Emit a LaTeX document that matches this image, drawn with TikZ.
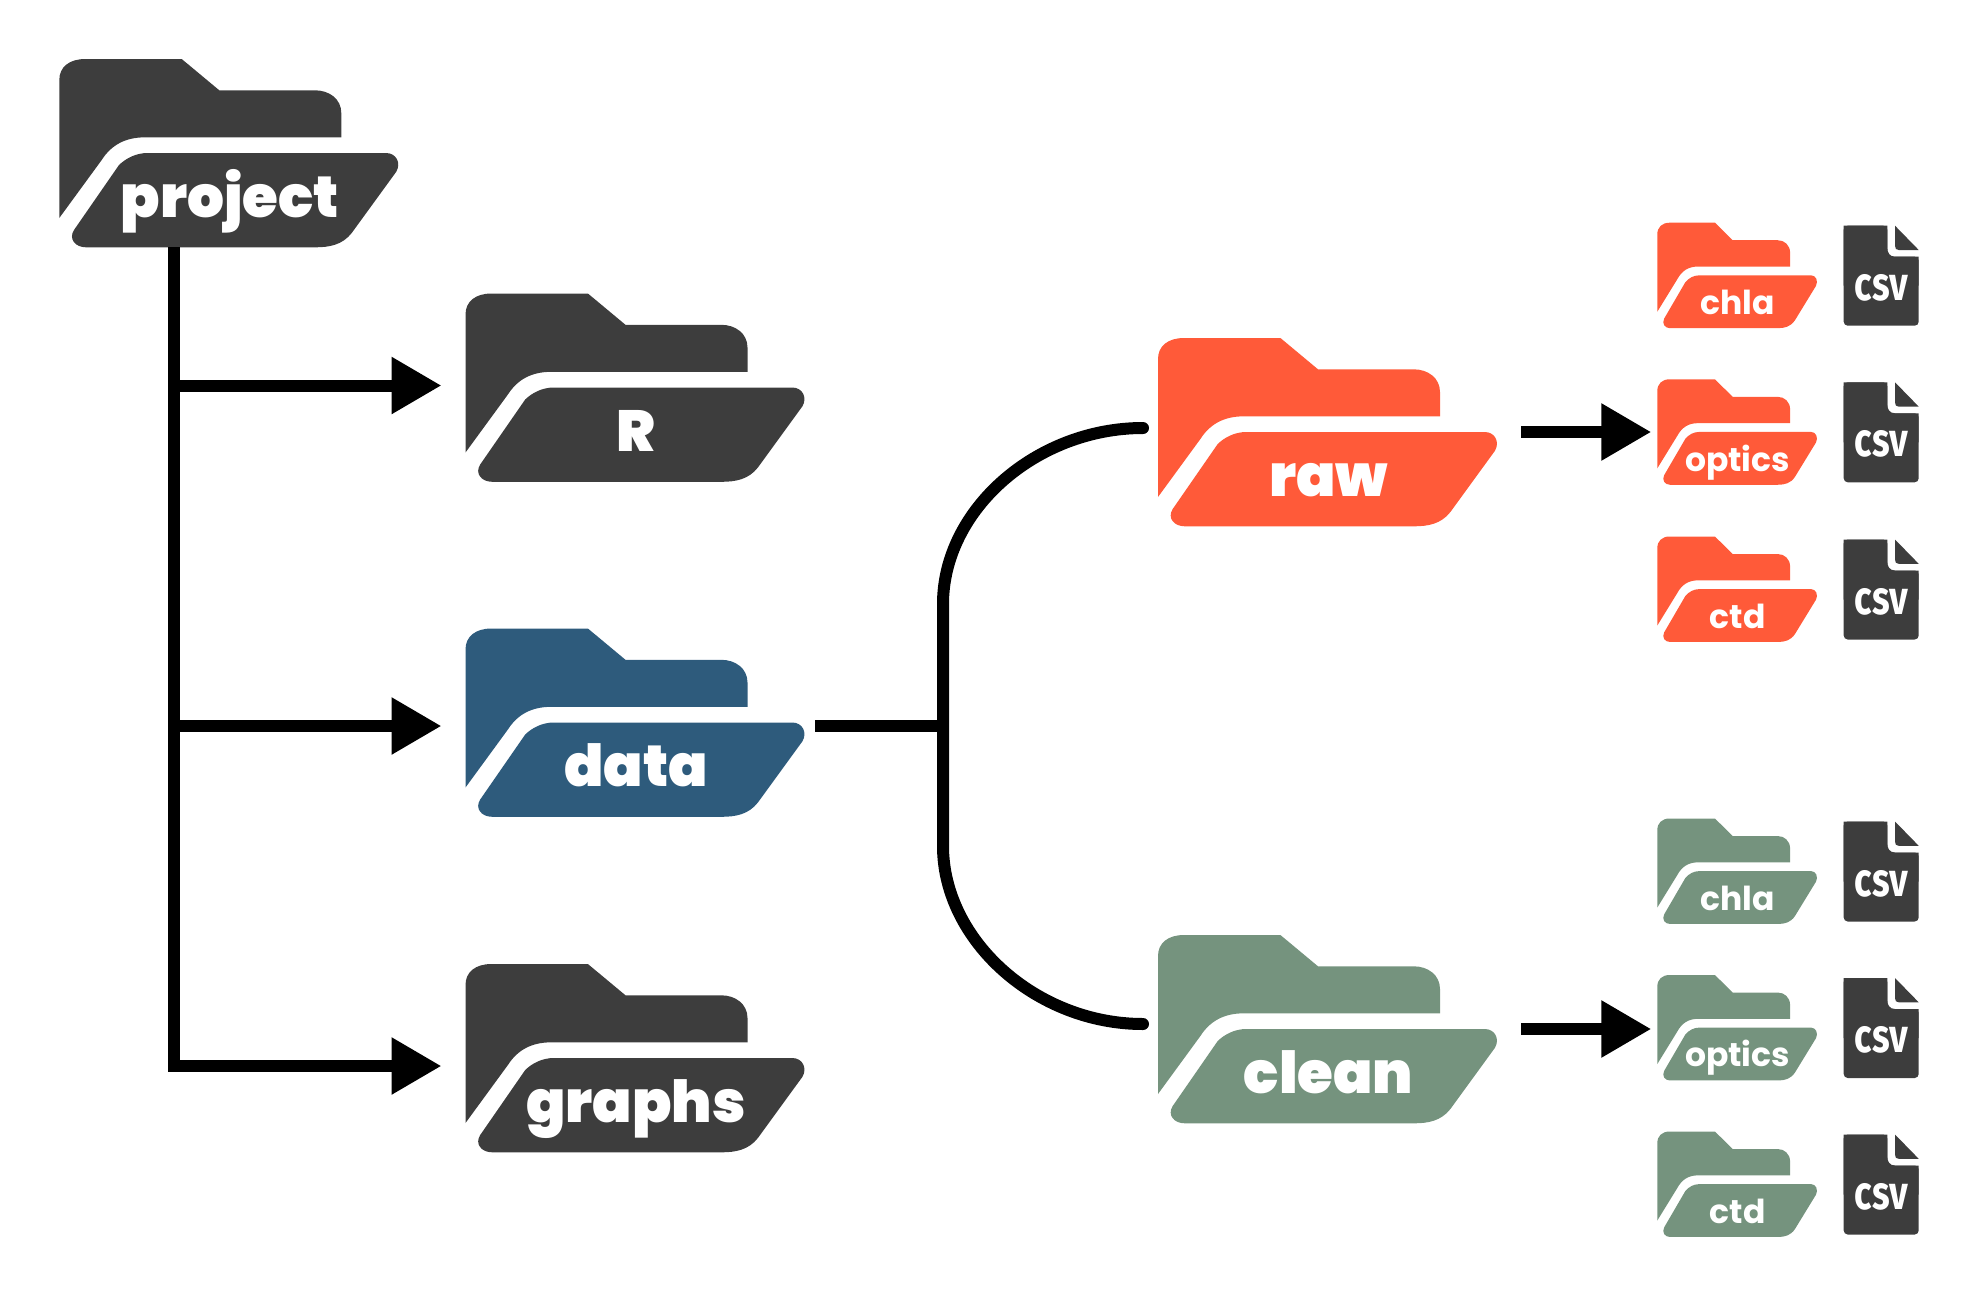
\documentclass[tikz,border=0pt]{standalone}
\usepackage{fontspec}
\usepackage{graphicx}
\usetikzlibrary{arrows.meta}
\newfontfamily\heavyfont{Poppins Black}
\newfontfamily\midfont{Poppins}[UprightFont=* Bold]
\newfontfamily\csvfont{Fira Sans}[UprightFont=* Bold]
\definecolor{darkgrey}{HTML}{3D3D3D}
\definecolor{deepblue}{HTML}{2E5B7C}
\definecolor{tomato}{HTML}{FF5A39}
\definecolor{sage}{HTML}{75937E}
\tikzset{
  pics/folder/.style n args={4}{code={
    \fill[#1] (0,21) .. controls (0,8) and (10,0) .. (26,0) -- (122.4,0) -- (160,31.3) -- (255.7,31.3)
      .. controls (270,31.3) and (282,40) .. (282,54) -- (282,78.3) -- (86,78.3)
      .. controls (66,78.3) and (52,86) .. (42.4,101) -- (0,159) -- cycle;
    \fill[#1] (59.7,106) .. controls (67,99) and (77,94) .. (88.4,94) -- (326.7,94)
      .. controls (337,94) and (342,104) .. (337,112.7) -- (292.4,174)
      .. controls (283,186) and (270,188.3) .. (256,188.3) -- (26.7,188.3)
      .. controls (16,188.3) and (9,180) .. (14.7,171) -- cycle;
    \node[text=white,font=#2,inner sep=0,anchor=base] (-label) at (170.5,#3) {#4};
    \coordinate (-west) at (0,92);
    \coordinate (-east) at (338,92);
    \coordinate (-south) at (114.4,188.3);
  }},
  pics/csvfile/.style={code={
    \fill[darkgrey,rounded corners=2pt] (0,0) -- (43.6,0) -- (43.6,31) -- (51.3,31) -- (75,31) -- (75,100) -- (0,100) -- cycle;
    \fill[darkgrey] (0,0) -- (43.6,0) -- (43.6,22) .. controls (43.6,27) and (46,31) .. (51.3,31) -- (75,31) -- (75,60) -- (0,60) -- cycle;
    \fill[darkgrey] (51.3,0) -- (75,24.3) -- (55,24.3) .. controls (52.5,24.3) and (51.3,23) .. (51.3,20) -- cycle;
    \node[text=white,font=\csvfont,inner sep=0] (-label) at (37.5,62) {\scalebox{.96}[1.25]{\fontsize{19pt}{19pt}\selectfont csv}};
  }},
  link/.style={line width=6pt},
  arrow/.style={line width=6pt,-{Triangle[length=25pt,width=27pt]}},
  small/.style={xscale=.471,yscale=.56}
}
\begin{document}
\begin{tikzpicture}[x=.5pt,y=-.5pt]
  \useasboundingbox (0,0) rectangle (1978,1297);
  \def\biglabel{\heavyfont\fontsize{29pt}{29pt}\selectfont}
  \def\smalllabel{\midfont\fontsize{16.5pt}{16.5pt}\selectfont}

  \pic (project) at (59.3,59) {folder={darkgrey}{\biglabel}{158}{project}};
  \pic (R) at (465.5,293.5) {folder={darkgrey}{\biglabel}{158}{R}};
  \pic (data) at (465.5,628.5) {folder={deepblue}{\biglabel}{158}{data}};
  \pic (graphs) at (465.5,964) {folder={darkgrey}{\biglabel}{158}{graphs}};
  \pic (raw) at (1158,338) {folder={tomato}{\biglabel}{158}{raw}};
  \pic (clean) at (1158,935) {folder={sage}{\biglabel}{158}{clean}};

  \pic[small] (rawchla) at (1657.3,222.7) {folder={tomato}{\smalllabel}{164}{chla}};
  \pic[small] (rawoptics) at (1657.3,379.3) {folder={tomato}{\smalllabel}{164}{optics}};
  \pic[small] (rawctd) at (1657.3,536.5) {folder={tomato}{\smalllabel}{164}{ctd}};
  \pic[small] (cleanchla) at (1657.3,818.5) {folder={sage}{\smalllabel}{164}{chla}};
  \pic[small] (cleanoptics) at (1657.3,975) {folder={sage}{\smalllabel}{164}{optics}};
  \pic[small] (cleanctd) at (1657.3,1131.5) {folder={sage}{\smalllabel}{164}{ctd}};

  \pic (csva) at (1843.7,225.7) {csvfile};
  \pic (csvb) at (1843.7,382.3) {csvfile};
  \pic (csvc) at (1843.7,539.5) {csvfile};
  \pic (csvd) at (1843.7,821.5) {csvfile};
  \pic (csve) at (1843.7,978) {csvfile};
  \pic (csvf) at (1843.7,1134.5) {csvfile};

  \draw[arrow] (project-south) |- ([xshift=-12pt,yshift=-5pt]graphs-west);
  \draw[arrow] (project-south |- R-west) -- ([xshift=-12pt]R-west);
  \draw[arrow] ([yshift=-2.75pt]project-south |- data-west) -- ([xshift=-12pt,yshift=-2.75pt]data-west);

  \coordinate (fork) at ([xshift=69.75pt,yshift=-2.75pt]data-east);
  \draw[link] ([xshift=5.75pt,yshift=-2.75pt]data-east) -- (fork);
  \draw[link,line cap=round] ([xshift=-7.5pt,yshift=1pt]raw-west) .. controls (1036,428) and (943,510) .. (943,604) -- (943,846) .. controls (943,940) and (1036,1024) .. ([xshift=-7.5pt,yshift=1.5pt]clean-west);

  \draw[arrow] ([xshift=12.5pt,yshift=-1pt]raw-east) -- ([xshift=-3pt,yshift=-1pt]raw-east -| rawoptics-west);
  \draw[arrow] ([xshift=12.5pt,yshift=-1pt]clean-east) -- ([xshift=-3pt,yshift=-1pt]clean-east -| cleanoptics-west);
\end{tikzpicture}
\end{document}
